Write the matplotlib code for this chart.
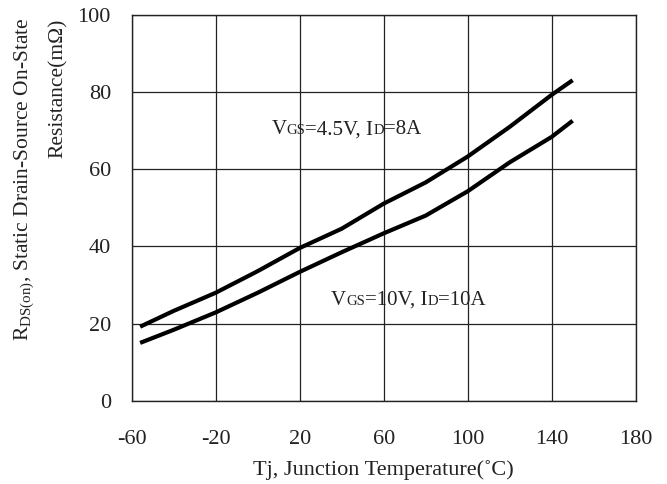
import matplotlib
matplotlib.use("Agg")
import matplotlib.pyplot as plt
from matplotlib.offsetbox import TextArea, HPacker, AnnotationBbox

# RDS(on) vs junction temperature
tj = [-56, -40, -20, 0, 20, 40, 60, 80, 100, 120, 140, 150]
rds_45v = [19.2, 23.3, 28.0, 33.6, 39.6, 44.6, 51.1, 56.6, 63.3, 71.0, 79.3, 83.1]
rds_10v = [15.0, 18.4, 22.9, 28.0, 33.4, 38.5, 43.4, 48.0, 54.3, 61.8, 68.4, 72.6]

x_ticks = [-60, -20, 20, 60, 100, 140, 180]
y_ticks = [0, 20, 40, 60, 80, 100]

font = ['Liberation Serif', 'DejaVu Serif']
plt.rcParams['font.family'] = font
plt.rcParams['mathtext.fontset'] = 'custom'
plt.rcParams['mathtext.rm'] = 'Liberation Serif'
plt.rcParams['axes.unicode_minus'] = False

fig = plt.figure(figsize=(6.67, 4.84), dpi=100)
ax = fig.add_axes([0.1975, 0.172, 0.7555, 0.797])

for rds in (rds_45v, rds_10v):
    ax.plot(tj, rds, color='black', linewidth=3,
            solid_capstyle='butt', solid_joinstyle='round')

ax.set_xlim(-60, 180)
ax.set_ylim(0, 100)
ax.set_xticks(x_ticks)
ax.set_yticks(y_ticks)
ax.grid(True, color='#222222', linewidth=0.9)
ax.set_axisbelow(True)
ax.tick_params(length=0, labelsize=16, labelcolor='#222222')
ax.tick_params(axis='x', pad=21)
ax.tick_params(axis='y', pad=15)
for s in ax.spines.values():
    s.set_linewidth(1.0)
    s.set_color('#222222')


def label(parts, xy):
    # big letters + small subscript letters on the same baseline
    boxes = [TextArea(t, textprops=dict(fontsize=sz, family=font, color='#222222'))
             for t, sz in parts]
    pack = HPacker(children=boxes, align='baseline', pad=0, sep=0)
    ab = AnnotationBbox(pack, xy, xycoords='data', frameon=False,
                        box_alignment=(0, 0.5))
    ax.add_artist(ab)


label([('V', 15), ('GS', 10.5), ('=4.5V, I', 15), ('D', 10.5), ('=8A', 15)], (6.5, 70.2))
label([('V', 15), ('GS', 10.5), ('=10V, I', 15), ('D', 10.5), ('=10A', 15)], (35.0, 26.1))

ax.set_xlabel('Tj, Junction Temperature(˚C)', fontsize=16, labelpad=8, color='#222222')

fig.text(25 / 667, 1 - 179 / 484, r'R$_{\mathrm{DS(on)}}$, Static Drain-Source On-State',
         rotation=90, ha='center', va='center', fontsize=15.5, color='#222222')
fig.text(58 / 667, 1 - 88 / 484, 'Resistance(mΩ)',
         rotation=90, ha='center', va='center', fontsize=15.5, color='#222222')

fig.savefig('out.png', dpi=100)
